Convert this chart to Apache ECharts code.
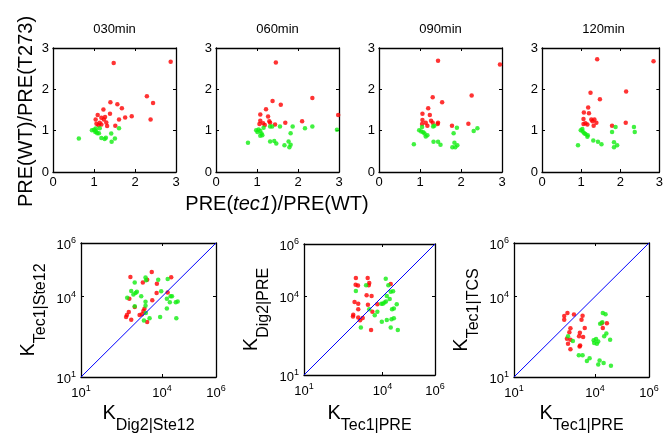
<!DOCTYPE html>
<html lang="en">
<head>
    <meta charset="UTF-8">
    <title>PRE ratios and K values</title>
    <script src="https://cdn.jsdelivr.net/npm/echarts@6/dist/echarts.min.js"></script>
    <style>
        html, body {
            margin: 0;
            padding: 0;
            background: #fff;
        }

        #container {
            width: 666px;
            height: 439px;
        }
    </style>
</head>
<body>
<div id="container"></div>
<script>
    // top row: PRE(tec1)/PRE(WT) vs PRE(WT)/PRE(T273)
    const topTitles = ['030min', '060min', '090min', '120min'];
    const red030 = [[1.48, 2.64], [2.87, 2.67], [2.29, 1.83], [2.44, 1.67], [2.38, 1.27], [1.40, 1.69], [1.57, 1.64],
        [1.68, 1.54], [1.23, 1.51], [1.09, 1.38], [1.39, 1.41], [1.76, 1.32], [1.92, 1.35], [1.61, 1.27], [1.18, 1.31],
        [1.27, 1.33], [1.04, 1.27], [1.24, 1.27], [1.30, 1.20], [1.14, 1.19], [1.06, 1.17], [1.18, 1.15], [1.11, 1.13],
        [1.32, 1.11], [1.52, 1.12]];
    const green030 = [[0.63, 0.81], [0.95, 1.01], [1.00, 1.02], [1.04, 1.05], [1.03, 0.97], [1.08, 0.94], [1.14, 1.06],
        [1.12, 0.94], [1.61, 1.06], [1.42, 0.93], [1.18, 0.82], [1.26, 0.80], [1.29, 0.83], [1.51, 0.81], [1.43, 0.73],
        [1.05, 0.99]];
    const red060 = [[1.46, 2.65], [2.35, 1.79], [1.38, 1.72], [1.58, 1.63], [1.22, 1.52], [1.08, 1.39], [1.27, 1.34],
        [1.08, 1.24], [1.30, 1.23], [1.32, 1.19], [1.15, 1.18], [1.19, 1.14], [1.06, 1.16], [1.44, 1.15], [1.69, 1.19],
        [2.10, 1.23], [2.98, 1.38]];
    const green060 = [[0.78, 0.71], [0.98, 1.01], [1.01, 0.97], [1.04, 1.03], [1.08, 0.99], [1.11, 0.93], [1.13, 0.89],
        [1.16, 1.07], [1.08, 0.88], [1.32, 1.10], [1.37, 1.10], [1.56, 1.10], [1.87, 1.10], [2.17, 1.06], [2.35, 1.10],
        [2.95, 1.02], [1.82, 0.94], [1.32, 0.74], [1.42, 0.75], [1.47, 0.69], [1.67, 0.65], [1.77, 0.74], [1.82, 0.66],
        [1.79, 0.60]];
    const red090 = [[1.44, 2.69], [2.95, 2.60], [2.26, 1.85], [1.31, 1.81], [1.54, 1.69], [1.20, 1.54], [1.06, 1.41],
        [1.24, 1.38], [1.06, 1.26], [1.27, 1.24], [1.14, 1.19], [1.31, 1.19], [1.44, 1.19], [1.43, 1.16], [1.05, 1.16],
        [1.18, 1.12], [1.78, 1.12], [2.18, 1.17]];
    const green090 = [[0.85, 0.67], [0.98, 1.01], [1.03, 0.98], [1.05, 1.09], [1.08, 0.96], [1.11, 0.93], [1.14, 0.86],
        [1.18, 0.89], [1.32, 1.10], [1.35, 1.12], [1.90, 1.07], [1.82, 0.94], [2.31, 0.99], [2.40, 1.06], [1.33, 0.73],
        [1.44, 0.73], [1.50, 0.66], [1.84, 0.71], [1.91, 0.65], [1.79, 0.60], [1.86, 0.60]];
    const red120 = [[1.41, 2.73], [2.85, 2.68], [2.15, 1.95], [1.24, 1.92], [1.48, 1.76], [1.18, 1.56], [1.07, 1.44],
        [1.20, 1.42], [1.06, 1.28], [1.26, 1.27], [1.34, 1.27], [1.29, 1.23], [1.39, 1.19], [1.11, 1.18], [1.16, 1.15],
        [1.06, 1.16], [1.32, 1.12], [1.79, 1.12], [2.14, 1.19]];
    const green120 = [[0.92, 0.65], [0.99, 1.01], [1.03, 1.04], [1.04, 0.98], [1.08, 0.94], [1.11, 0.92], [1.17, 0.89],
        [1.16, 0.85], [1.88, 1.09], [1.79, 0.97], [2.35, 1.09], [2.37, 0.97], [1.31, 0.76], [1.43, 0.73], [1.52, 0.67],
        [1.84, 0.72], [1.92, 0.65], [1.84, 0.60]];
    const topRed = [red030, red060, red090, red120];
    const topGreen = [green030, green060, green090, green120];

    // bottom row: log10 of the K values
    const kXNames = ['Dig2|Ste12', 'Tec1|PRE', 'Tec1|PRE'];
    const kYNames = ['Tec1|Ste12', 'Dig2|PRE', 'Tec1|TCS'];
    const kTicks = [1, 4, 6];
    const diagLine = [[1, 1], [6, 6]];
    const redDigTec = [[2.83, 4.73], [3.62, 4.92], [4.34, 4.72], [3.29, 4.53], [3.45, 4.63], [3.81, 4.48], [2.79, 3.92],
        [3.64, 3.86], [3.80, 4.13], [4.21, 4.15], [2.99, 3.61], [2.77, 3.43], [3.35, 3.55], [3.31, 3.46], [3.26, 3.34],
        [3.17, 3.31], [2.70, 3.31], [2.67, 3.24], [2.86, 3.14], [3.45, 3.05]];
    const greenDigTec = [[2.99, 4.53], [3.39, 4.71], [3.41, 4.61], [3.86, 4.63], [4.21, 4.66], [2.86, 4.21], [3.02, 4.13],
        [3.07, 4.18], [2.94, 4.08], [2.71, 3.96], [3.23, 4.01], [3.39, 3.81], [3.39, 3.66], [3.97, 4.20], [4.18, 3.92],
        [4.32, 4.01], [4.37, 4.01], [4.29, 3.79], [4.51, 3.79], [4.58, 3.82], [4.18, 3.56], [2.99, 3.64], [3.40, 3.39],
        [3.93, 3.24], [3.54, 3.19], [3.33, 3.11], [4.53, 3.19]];
    const redTecDig = [[2.98, 4.70], [3.43, 4.70], [2.97, 4.44], [3.06, 4.42], [3.49, 4.51], [3.47, 4.43], [4.31, 4.47],
        [3.39, 4.04], [3.58, 4.02], [2.93, 3.79], [3.07, 3.72], [3.44, 3.68], [3.80, 3.70], [3.07, 3.51], [3.61, 3.41],
        [2.88, 3.30], [2.87, 3.23], [3.07, 3.19], [3.14, 3.09], [3.24, 3.18], [3.56, 2.72]];
    const greenTecDig = [[2.98, 4.21], [3.37, 4.43], [4.12, 4.67], [4.22, 4.43], [4.31, 4.18], [4.40, 4.20], [4.16, 4.02],
        [4.27, 3.90], [4.13, 3.81], [4.07, 3.77], [3.95, 3.72], [4.01, 3.72], [4.54, 3.70], [4.43, 3.54], [4.36, 3.51],
        [3.80, 3.41], [3.49, 3.51], [3.70, 3.28], [3.97, 3.03], [4.16, 3.10], [4.34, 3.13], [4.43, 3.17], [3.17, 2.81],
        [4.31, 2.81], [4.58, 2.72]];
    const redTecTcs = [[2.98, 3.39], [3.22, 3.33], [2.86, 3.28], [3.54, 3.29], [2.86, 3.14], [3.50, 3.14], [4.25, 3.01],
        [4.44, 3.01], [4.29, 2.83], [3.09, 2.82], [3.62, 2.83], [3.05, 2.67], [3.44, 2.65], [3.56, 2.49], [2.96, 2.43],
        [3.09, 2.39], [3.41, 2.52], [3.00, 2.24], [3.09, 2.04], [3.45, 2.18], [3.43, 2.14]];
    const greenTecTcs = [[4.29, 3.39], [4.39, 3.34], [4.27, 3.04], [4.19, 2.99], [4.42, 2.62], [4.34, 2.52], [4.56, 2.39],
        [4.04, 2.42], [3.95, 2.37], [3.97, 2.27], [4.12, 2.32], [4.07, 2.24], [3.00, 2.52], [3.18, 2.34], [3.40, 1.81],
        [3.54, 1.81], [3.70, 1.60], [3.80, 1.70], [4.12, 1.47], [4.17, 1.62], [4.32, 1.52], [4.59, 1.42]];
    const kRed = [redDigTec, redTecDig, redTecTcs];
    const kGreen = [greenDigTec, greenTecDig, greenTecTcs];

    const font = 'Liberation Sans, Arial, sans-serif';
    const RED = '#ff0000';
    const GREEN = '#11ee11';

    const topLefts = [53, 216, 379, 542];
    const bottomBoxes = [[81, 243, 135, 134], [304, 244, 131, 131], [514, 243, 135, 134]];

    const grids = [], xAxes = [], yAxes = [], series = [], titles = [], graphic = [];

    function baseAxis(gridIndex, position) {
        return {
            type: 'value',
            gridIndex: gridIndex,
            position: position,
            axisLine: {show: true, onZero: false, lineStyle: {color: '#000', width: 1.3}},
            axisTick: {show: true, inside: true, length: 3, lineStyle: {color: '#000'}},
            splitLine: {show: false}
        };
    }

    function ratioAxis(gridIndex, position) {
        const ax = baseAxis(gridIndex, position);
        ax.min = 0;
        ax.max = 3;
        ax.interval = 1;
        ax.axisLabel = {
            show: position === 'bottom' || position === 'left',
            showMinLabel: true, showMaxLabel: true,
            color: '#000', fontSize: 13, fontFamily: font, margin: 4
        };
        return ax;
    }

    function kAxis(gridIndex, position) {
        const ax = baseAxis(gridIndex, position);
        ax.min = 1;
        ax.max = 6;
        ax.axisTick.customValues = kTicks;
        ax.axisLabel = {
            show: position === 'bottom' || position === 'left',
            customValues: kTicks,
            margin: position === 'bottom' ? 7 : 5,
            formatter: v => '{b|10}{s|' + v + '}',
            rich: {
                b: {fontSize: 13, lineHeight: 13, padding: [5, 0, 0, 0], color: '#000', fontFamily: font},
                s: {fontSize: 9, lineHeight: 9, verticalAlign: 'top', color: '#000', fontFamily: font}
            }
        };
        return ax;
    }

    function dots(data, color, xi, yi) {
        return {
            type: 'scatter', data: data, xAxisIndex: xi, yAxisIndex: yi,
            symbolSize: 4.5, itemStyle: {color: color}, silent: true
        };
    }

    topLefts.forEach((left, i) => {
        grids.push({left: left, top: 48, width: 123, height: 124});
        const g = grids.length - 1;
        xAxes.push(ratioAxis(g, 'bottom'), ratioAxis(g, 'top'));
        yAxes.push(ratioAxis(g, 'left'), ratioAxis(g, 'right'));
        const xi = xAxes.length - 2, yi = yAxes.length - 2;
        series.push(dots(topRed[i], RED, xi, yi), dots(topGreen[i], GREEN, xi, yi));
        titles.push({
            text: topTitles[i], left: left + 61.5, top: 23, textAlign: 'center', padding: 0,
            textStyle: {fontSize: 13, fontWeight: 'normal', color: '#000', fontFamily: font}
        });
    });

    const kRich = {
        k: {fontSize: 20, lineHeight: 24, verticalAlign: 'top', fill: '#000', fontFamily: font},
        s: {fontSize: 16, lineHeight: 16, padding: [15, 0, 0, 0], verticalAlign: 'top', fill: '#000', fontFamily: font}
    };

    bottomBoxes.forEach((box, i) => {
        const [left, top, width, height] = box;
        grids.push({left: left, top: top, width: width, height: height});
        const g = grids.length - 1;
        xAxes.push(kAxis(g, 'bottom'), kAxis(g, 'top'));
        yAxes.push(kAxis(g, 'left'), kAxis(g, 'right'));
        const xi = xAxes.length - 2, yi = yAxes.length - 2;
        series.push({
            type: 'line', data: diagLine, xAxisIndex: xi, yAxisIndex: yi, symbol: 'none', silent: true,
            lineStyle: {color: '#0000ff', width: 1}
        });
        series.push(dots(kRed[i], RED, xi, yi), dots(kGreen[i], GREEN, xi, yi));
        graphic.push({
            type: 'text', x: left + width / 2, y: 403,
            style: {text: '{k|K}{s|' + kXNames[i] + '}', rich: kRich, align: 'center', verticalAlign: 'top'}
        });
        graphic.push({
            type: 'text', x: left - 63, y: top + height / 2, rotation: Math.PI / 2,
            style: {text: '{k|K}{s|' + kYNames[i] + '}', rich: kRich, align: 'center', verticalAlign: 'top'}
        });
    });

    graphic.push({
        type: 'text', x: 26, y: 111.5, rotation: Math.PI / 2,
        style: {
            text: 'PRE(WT)/PRE(T273)', fontSize: 20, fontFamily: font, fill: '#000',
            align: 'center', verticalAlign: 'middle'
        }
    });
    graphic.push({
        type: 'text', x: 277, y: 204,
        style: {
            text: '{n|PRE(}{i|tec1}{n|)/PRE(WT)}',
            rich: {
                n: {fontSize: 20, fontFamily: font, fill: '#000'},
                i: {fontSize: 20, fontStyle: 'italic', fontFamily: font, fill: '#000'}
            },
            align: 'center', verticalAlign: 'middle'
        }
    });

    const myChart = echarts.init(document.getElementById('container'));
    myChart.setOption({
        animation: false,
        backgroundColor: '#fff',
        title: titles,
        grid: grids,
        xAxis: xAxes,
        yAxis: yAxes,
        series: series,
        graphic: graphic
    });
</script>
</body>
</html>
